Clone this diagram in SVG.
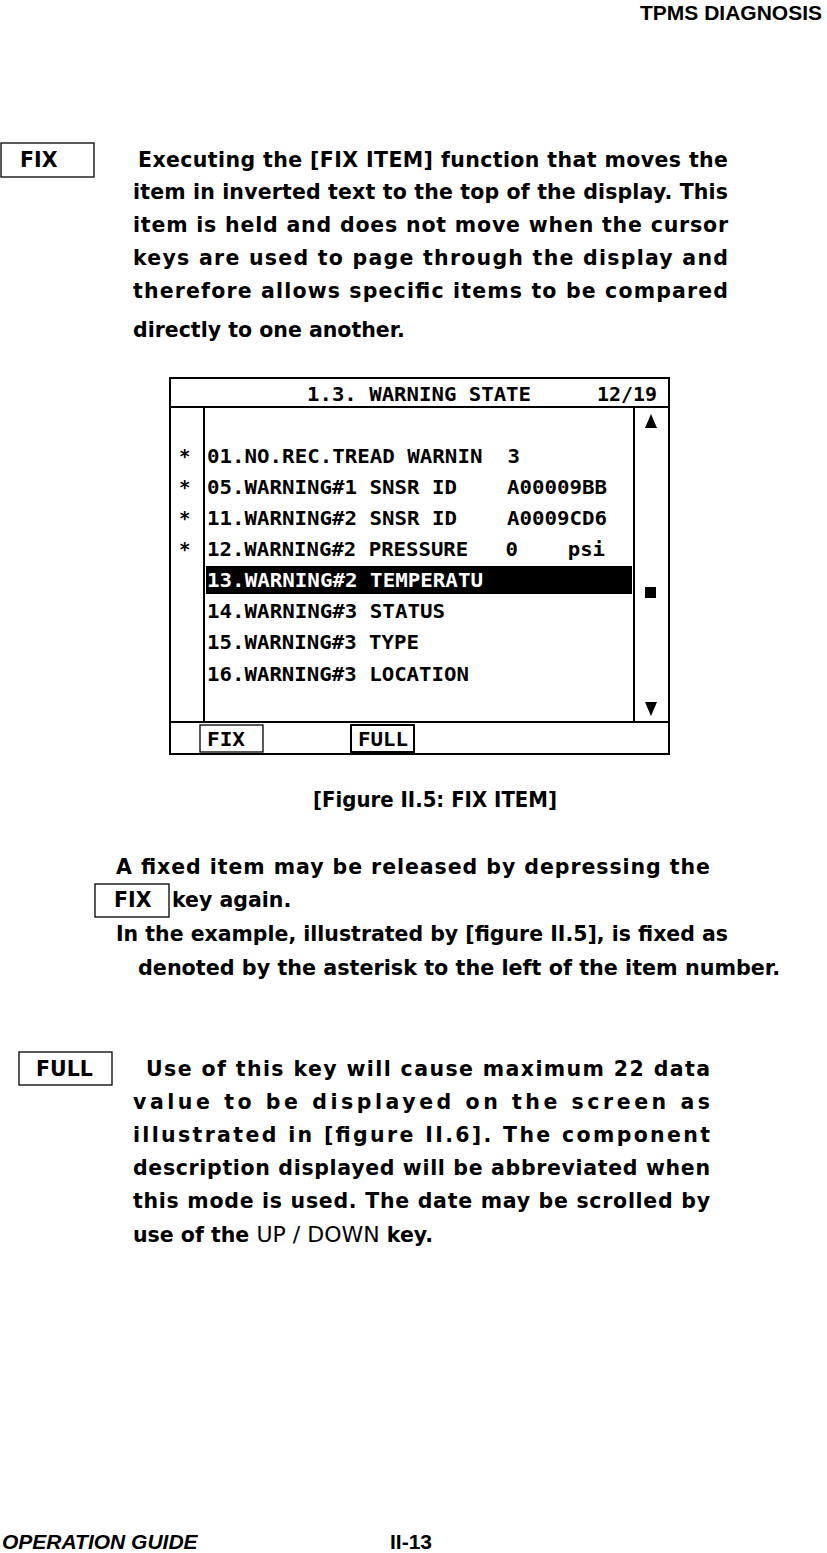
<svg xmlns="http://www.w3.org/2000/svg" width="827" height="1553" viewBox="0 0 827 1553">
<style>
.b{font-family:"DejaVu Sans",sans-serif;font-weight:bold;font-size:20.5px;fill:#000}
.m{font-family:"DejaVu Sans Mono",monospace;font-weight:bold;font-size:19px;fill:#000;white-space:pre}
.h{font-family:"Liberation Sans",Arial,sans-serif;font-weight:bold;font-size:21px}
.k{fill:none;stroke:#000;stroke-width:1.3}
.s{fill:none;stroke:#000;stroke-width:2}
</style>
<rect width="827" height="1553" fill="#fff"/>
<text class="h" x="822" y="20" text-anchor="end">TPMS DIAGNOSIS</text>
<g id="fix-key"><rect class="k" x="1" y="143" width="93" height="34"/><text class="b" x="20" y="167">FIX</text></g>
<g id="para1">
<text class="b" x="138" y="167" textLength="590" lengthAdjust="spacing">Executing the [FIX ITEM] function that moves the</text>
<text class="b" x="133" y="199" textLength="595" lengthAdjust="spacing">item in inverted text to the top of the display. This</text>
<text class="b" x="133" y="232" textLength="595" lengthAdjust="spacing">item is held and does not move when the cursor</text>
<text class="b" x="133" y="265" textLength="595" lengthAdjust="spacing">keys are used to page through the display and</text>
<text class="b" x="133" y="298" textLength="595" lengthAdjust="spacing">therefore allows specific items to be compared</text>
<text class="b" x="133" y="337">directly to one another.</text>
</g>
<g id="screen">
<rect class="s" x="170" y="378" width="499" height="376"/>
<line class="s" x1="170" y1="407" x2="669" y2="407"/>
<line class="s" x1="204" y1="407" x2="204" y2="722"/>
<line class="s" x1="634" y1="407" x2="634" y2="722"/>
<line class="s" x1="170" y1="722" x2="669" y2="722"/>
<text class="m" x="307" y="401" textLength="224" lengthAdjust="spacingAndGlyphs">1.3. WARNING STATE</text>
<text class="m" x="597" y="401" textLength="60" lengthAdjust="spacingAndGlyphs">12/19</text>
<polygon points="651,414 645,428 657,428"/>
<rect x="645" y="587" width="11" height="11"/>
<polygon points="645,702 657,702 651,716"/>
<rect x="206" y="566" width="426" height="28"/>
<g class="m">
<text x="179" y="463">*</text><text x="179" y="494">*</text><text x="179" y="525">*</text><text x="179" y="556">*</text>
<text x="207" y="463" textLength="313" lengthAdjust="spacingAndGlyphs" xml:space="preserve">01.NO.REC.TREAD WARNIN  3</text>
<text x="207" y="494" textLength="400" lengthAdjust="spacingAndGlyphs" xml:space="preserve">05.WARNING#1 SNSR ID    A00009BB</text>
<text x="207" y="525" textLength="400" lengthAdjust="spacingAndGlyphs" xml:space="preserve">11.WARNING#2 SNSR ID    A0009CD6</text>
<text x="207" y="556" textLength="398" lengthAdjust="spacingAndGlyphs" xml:space="preserve">12.WARNING#2 PRESSURE   0    psi</text>
<text x="207" y="587" textLength="276" lengthAdjust="spacingAndGlyphs" style="fill:#fff">13.WARNING#2 TEMPERATU</text>
<text x="207" y="618" textLength="238" lengthAdjust="spacingAndGlyphs">14.WARNING#3 STATUS</text>
<text x="207" y="649" textLength="212" lengthAdjust="spacingAndGlyphs">15.WARNING#3 TYPE</text>
<text x="207" y="681" textLength="262" lengthAdjust="spacingAndGlyphs">16.WARNING#3 LOCATION</text>
</g>
<rect class="k" x="200" y="725" width="63" height="27"/>
<text class="m" x="207" y="746" textLength="38" lengthAdjust="spacingAndGlyphs">FIX</text>
<rect class="s" x="351" y="725" width="63" height="27"/>
<text class="m" x="358" y="746" textLength="50" lengthAdjust="spacingAndGlyphs">FULL</text>
</g>
<text class="b" x="313" y="807" textLength="244" lengthAdjust="spacingAndGlyphs">[Figure II.5: FIX ITEM]</text>
<g id="para2">
<text class="b" x="116" y="874" textLength="594" lengthAdjust="spacing">A fixed item may be released by depressing the</text>
<rect class="k" x="95" y="884" width="74" height="33"/>
<text class="b" x="114" y="907">FIX</text>
<text class="b" x="172" y="907">key again.</text>
<text class="b" x="116" y="941" textLength="612" lengthAdjust="spacingAndGlyphs">In the example, illustrated by [figure II.5], is fixed as</text>
<text class="b" x="138" y="975" textLength="642" lengthAdjust="spacingAndGlyphs">denoted by the asterisk to the left of the item number.</text>
</g>
<g id="full-key"><rect class="k" x="19" y="1052" width="93" height="33"/><text class="b" x="36" y="1076">FULL</text></g>
<g id="para3">
<text class="b" x="146" y="1076" textLength="564" lengthAdjust="spacing">Use of this key will cause maximum 22 data</text>
<text class="b" x="133" y="1109" textLength="577" lengthAdjust="spacing">value to be displayed on the screen as</text>
<text class="b" x="133" y="1142" textLength="577" lengthAdjust="spacing">illustrated in [figure II.6]. The component</text>
<text class="b" x="133" y="1175" textLength="577" lengthAdjust="spacing">description displayed will be abbreviated when</text>
<text class="b" x="133" y="1208" textLength="577" lengthAdjust="spacing">this mode is used. The date may be scrolled by</text>
<text class="b" x="133" y="1242">use of the <tspan font-weight="500" font-size="22">UP / DOWN</tspan> key.</text>
</g>
<text class="h" x="2" y="1549" font-style="italic" font-size="23">OPERATION GUIDE</text>
<text class="h" x="390" y="1549" font-size="23">II-13</text>
</svg>
